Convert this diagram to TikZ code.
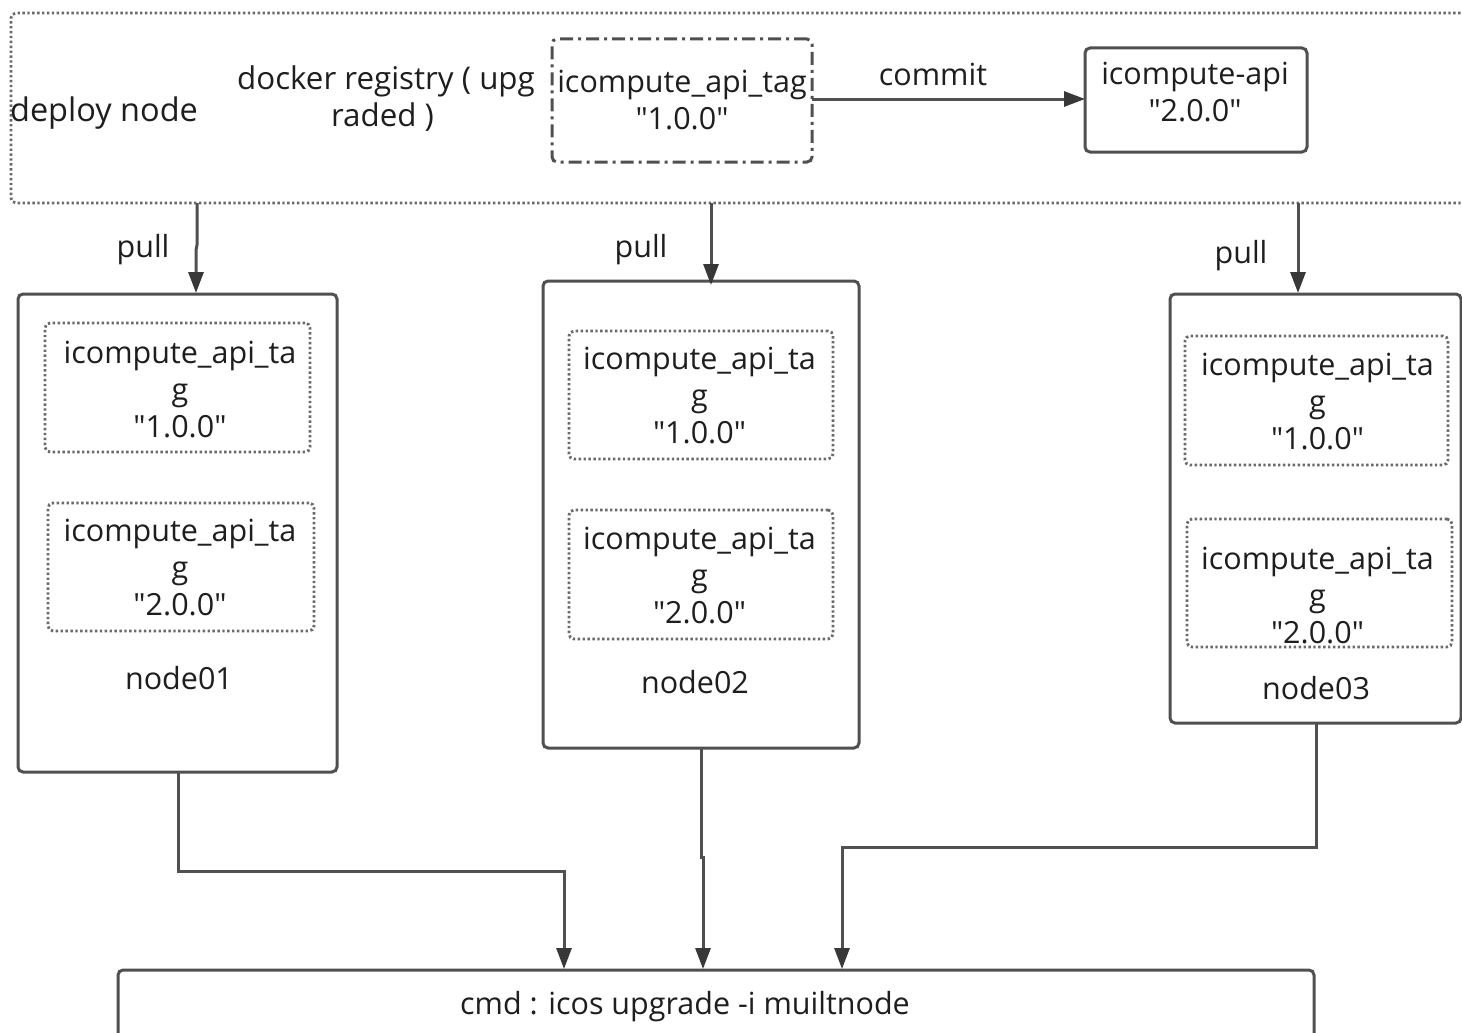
\documentclass[tikz,border=0pt]{standalone}
\usepackage{fontspec}
\newfontfamily\tf{Open Sans}
\usetikzlibrary{arrows.meta}
\newcommand{\pxbox}[6]{% name, x1,y1,x2,y2, style
  \node[#6,minimum width={(#4-#2)*1pt},minimum height={(#5-#3)*1pt}] (#1) at ({(#2+#4)/2},{(#3+#5)/2}) {};}
\tikzset{
  x=1pt,y=-1pt,
  base/.style={rectangle,rounded corners=5pt,inner sep=0pt,outer sep=0pt},
  solidbox/.style={base,draw=linecol,line width=3pt},
  dotbox/.style={base,draw=dotcol,line width=2.8pt,dash pattern=on 2.4pt off 2.5pt},
  dashdotbox/.style={base,draw=linecol,line width=3pt,dash pattern=on 13pt off 5pt on 3pt off 5pt},
  txt/.style={font=\tf\fontsize{30.5}{37}\selectfont,text=txtcol,align=center,inner sep=0pt},
  arr/.style={draw=linecol,line width=3pt,-{Triangle[length=21pt,width=15pt,fill=headcol,color=headcol]}},
}
\definecolor{linecol}{HTML}{505050}
\definecolor{headcol}{HTML}{383838}
\definecolor{dotcol}{HTML}{6A6A6A}
\definecolor{txtcol}{HTML}{1E1E1E}
\begin{document}
\begin{tikzpicture}
\useasboundingbox (0,0) rectangle (1462,1033);
\clip (0,0) rectangle (1462,1033);
\fill[white] (0,0) rectangle (1462,1033);
\pxbox{deploy}{11}{13}{1490}{203}{dotbox}
\pxbox{tagbox}{552}{39}{812}{162}{dashdotbox}
\pxbox{apibox}{1085}{48}{1307}{152}{solidbox}
\pxbox{nodeA}{18}{294}{337}{772}{solidbox}
\pxbox{nodeB}{543}{281}{859}{748}{solidbox}
\pxbox{nodeC}{1170}{294}{1461}{723}{solidbox}
\pxbox{Aa}{45}{323}{310}{452}{dotbox}
\pxbox{Ab}{48}{503}{314}{631}{dotbox}
\pxbox{Ba}{569}{331}{833}{459}{dotbox}
\pxbox{Bb}{569}{510}{833}{639}{dotbox}
\pxbox{Ca}{1185}{336}{1448}{465}{dotbox}
\pxbox{Cb}{1187}{519}{1452}{647}{dotbox}
\pxbox{cmd}{118}{970}{1314}{1040}{solidbox}

\node[txt,font=\tf\fontsize{32.5}{37}\selectfont] (deploylabel) at (104,113) {deploy node};
\node[txt,font=\tf\fontsize{31.3}{37}\selectfont] (reglabel) at (386,99) {docker registry ( upg\\raded )\hspace*{7pt}};
\node[txt] (taglabel) at (682,100.5) {icompute\_api\_tag\\"1.0.0"};
\node[txt] (apilabel) at (1195,92.5) {icompute-api\\"2.0.0"};
\node[txt] (committext) at (933,74) {commit};
\node[txt] (pullA) at (143,250) {pull};
\node[txt] (pullB) at (641,250) {pull};
\node[txt] (pullC) at (1241,256) {pull};
\node[txt] (Aat) at (180,390) {icompute\_api\_ta\\g\\"1.0.0"};
\node[txt] (Abt) at (180,568) {icompute\_api\_ta\\g\\"2.0.0"};
\node[txt] (Bat) at (699.5,396) {icompute\_api\_ta\\g\\"1.0.0"};
\node[txt] (Bbt) at (699.5,576) {icompute\_api\_ta\\g\\"2.0.0"};
\node[txt] (Cat) at (1317.5,402) {icompute\_api\_ta\\g\\"1.0.0"};
\node[txt] (Cbt) at (1317.5,596) {icompute\_api\_ta\\g\\"2.0.0"};
\node[txt] (labA) at (179,678) {node01};
\node[txt] (labB) at (695,682) {node02};
\node[txt] (labC) at (1316,688) {node03};
\node[txt] (cmdt) at (685,1007) {cmd : icos upgrade -i muiltnode};

\coordinate (dA) at (197,203); \coordinate (tA) at (196,293);
\coordinate (dB) at (711,203); \coordinate (tB) at (711,285);
\coordinate (dC) at (1298,203); \coordinate (tC) at (1298,293);
\coordinate (oA) at (178,772); \coordinate (iA) at (564,969);
\coordinate (oB) at (701,748); \coordinate (iB) at (703,969);
\coordinate (oC) at (1316,723); \coordinate (iC) at (842,969);
\coordinate (tagR) at (812,99); \coordinate (apiL) at (1085,99);

\draw[arr] (tagR) -- (apiL);
\draw[arr] (dA) -- (197,245) -- (196,250) -- (tA);
\draw[arr] (dB) -- (tB);
\draw[arr] (dC) -- (tC);
\draw[arr] (oA) -- (178,871) -- (564,871) -- (iA);
\draw[arr] (oB) -- (701,857) -- (703,857) -- (iB);
\draw[arr] (oC) -- (1316,847) -- (842,847) -- (iC);
\end{tikzpicture}
\end{document}
